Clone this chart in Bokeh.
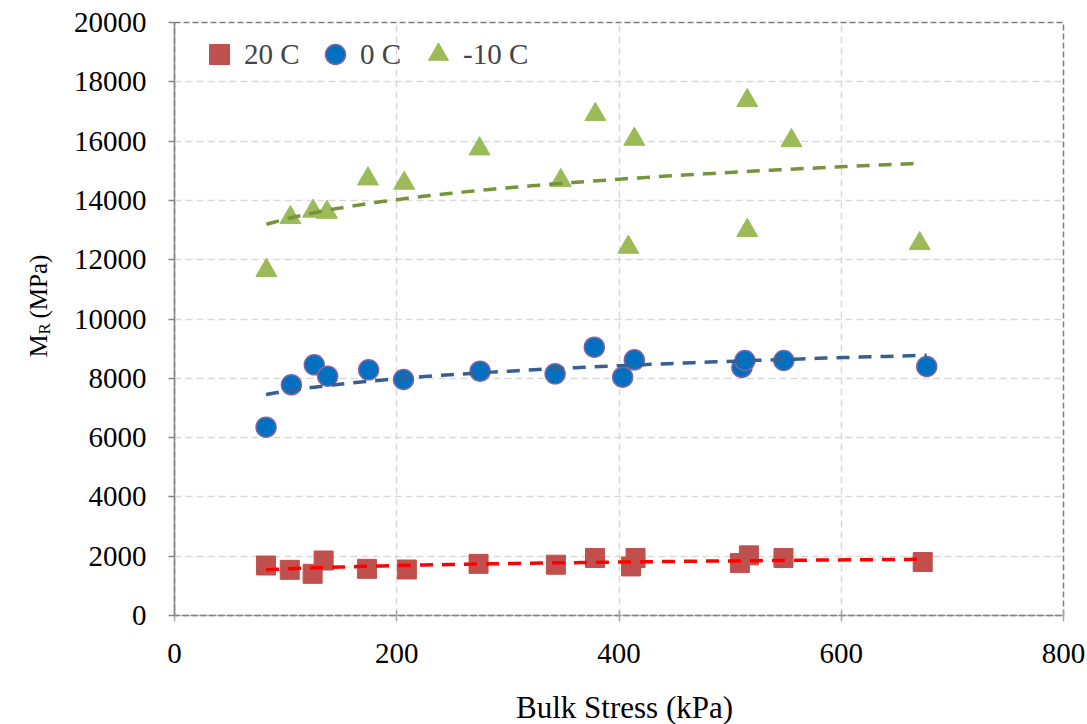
import numpy as np
from bokeh.plotting import figure
from bokeh.layouts import row, column
from bokeh.models import Legend, LegendItem, FixedTicker, Range1d
from bokeh.core.properties import value
from bokeh.embed import file_html
from bokeh.resources import INLINE

# ---- data ----
x_20c = [82.4, 103.7, 124.3, 134.2, 173.2, 209.1, 273.6, 343.2, 378.4, 410.8, 414.9, 508.8, 516.9, 548.0, 673.3]
y_20c = [1686, 1540, 1405, 1855, 1574, 1551, 1742, 1713, 1938, 1656, 1938, 1769, 2028, 1938, 1803]

x_0c = [82.4, 105.2, 125.8, 137.8, 174.7, 206.1, 275.0, 342.5, 377.8, 403.3, 413.8, 510.6, 513.3, 548.3, 676.9]
y_0c = [6352, 7780, 8454, 8071, 8285, 7960, 8240, 8150, 9050, 8038, 8623, 8364, 8600, 8600, 8398]

x_m10c = [82.7, 104.3, 124.7, 137.2, 174.1, 206.7, 274.5, 347.6, 378.7, 408.4, 413.8, 515.4, 515.4, 555.2, 670.6]
y_m10c = [11636, 13423, 13637, 13600, 14728, 14581, 15739, 14671, 16897, 12422, 16064, 17369, 12985, 16020, 12546]

series_labels = ["20 C", "0 C", "-10 C"]
x_ticks = [0, 200, 400, 600, 800]
y_ticks = [0, 2000, 4000, 6000, 8000, 10000, 12000, 14000, 16000, 18000, 20000]
x_title = "Bulk Stress (kPa)"
y_title_parts = ["M", "R", "(MPa)"]


def power_fit(xs, ys):
    xs = np.asarray(xs, float)
    ys = np.asarray(ys, float)
    b, lna = np.polyfit(np.log(xs), np.log(ys), 1)
    xf = np.linspace(xs.min(), xs.max(), 80)
    return xf, np.exp(lna) * xf ** b


FONT = "Liberation Serif"
YLAB_W = 66
XLAB_H = 39
TOTAL_W, TOTAL_H = 1087, 724
FRAME_LEFT = 174

xr = Range1d(0, 800)
p = figure(width=TOTAL_W - YLAB_W, height=TOTAL_H - XLAB_H, x_range=xr, y_range=Range1d(0, 20000),
           output_backend="svg", toolbar_location=None,
           min_border_left=FRAME_LEFT - YLAB_W, min_border_right=24, min_border_top=22, min_border_bottom=70)
p.background_fill_color = "white"
p.border_fill_color = "white"

p.outline_line_color = "#7f7f7f"
p.outline_line_dash = "6 3"
p.outline_line_width = 1.5

p.xaxis.ticker = FixedTicker(ticks=x_ticks)
p.yaxis.ticker = FixedTicker(ticks=y_ticks)
p.xgrid.ticker = FixedTicker(ticks=x_ticks[1:-1])
p.ygrid.ticker = FixedTicker(ticks=y_ticks[1:-1])
for g in (p.xgrid, p.ygrid):
    g.grid_line_color = "#d9d9d9"
    g.grid_line_dash = "7 4"
    g.grid_line_width = 1.5

for ax in (p.xaxis, p.yaxis):
    ax.major_label_text_font = FONT
    ax.major_label_text_font_size = "29px"
    ax.major_label_text_color = "black"
    ax.minor_tick_line_color = None
    ax.axis_line_color = "#868686"
    ax.axis_line_width = 1.5
    ax.major_tick_line_color = "#868686"
    ax.major_tick_line_width = 1.5

p.yaxis.major_tick_in = 0
p.yaxis.major_tick_out = 6
p.yaxis.major_label_standoff = 22

p.xaxis.axis_line_dash = "6 3"
p.xaxis.major_tick_in = 5
p.xaxis.major_tick_out = 6
p.xaxis.major_tick_line_color = "#a6a6a6"
p.xaxis.major_label_standoff = 22

r20 = p.scatter(x_20c, y_20c, marker="square", size=19, fill_color="#C0504D", line_color="#C0504D")
r0 = p.scatter(x_0c, y_0c, marker="circle", size=20, fill_color="#0070C0", line_color="#8064A2", line_width=1.5)
rm10 = p.scatter(x_m10c, y_m10c, marker="triangle", size=21, fill_color="#9BBB59", line_color="#9BBB59")

for xs, ys, col in ((x_20c, y_20c, "#FF0000"), (x_0c, y_0c, "#376092"), (x_m10c, y_m10c, "#77933C")):
    xf, yf = power_fit(xs, ys)
    p.line(xf, yf, line_color=col, line_width=3.5, line_dash="13 9")

# one legend box per series so each marker sits where the reference shows it
for lbl, rend, vx in zip(series_labels, (r20, r0, rm10), (20, 136, 239)):
    lg = Legend(items=[LegendItem(label=lbl, renderers=[rend])],
                orientation="horizontal", location=(vx, 536), padding=0, margin=0,
                spacing=0, label_standoff=0, glyph_width=50, glyph_height=50,
                label_text_font=FONT, label_text_font_size="29px",
                background_fill_alpha=0, border_line_alpha=0)
    p.add_layout(lg)

# ---- x-axis title strip ----
xlab = figure(width=TOTAL_W - YLAB_W, height=XLAB_H, x_range=xr, y_range=Range1d(0, XLAB_H),
              output_backend="svg", toolbar_location=None, x_axis_type=None, y_axis_type=None,
              min_border_left=FRAME_LEFT - YLAB_W, min_border_right=24, min_border_top=0, min_border_bottom=0)
xlab.outline_line_color = None
xlab.xgrid.visible = False
xlab.ygrid.visible = False
xlab.text(x=[405], y=[XLAB_H - 22], text=[x_title], text_font=value(FONT), text_font_size="31px",
          text_align="center", text_baseline="middle", text_color="black")

# ---- y-axis title strip (with subscript) ----
ylab = figure(width=YLAB_W, height=TOTAL_H, x_range=Range1d(0, YLAB_W), y_range=Range1d(0, TOTAL_H),
              output_backend="svg", toolbar_location=None, x_axis_type=None, y_axis_type=None,
              min_border_left=0, min_border_right=0, min_border_top=0, min_border_bottom=0)
ylab.outline_line_color = None
ylab.xgrid.visible = False
ylab.ygrid.visible = False
base_y = TOTAL_H - 357
ylab.text(x=[38], y=[base_y], text=[y_title_parts[0]], angle=np.pi / 2, text_font=value(FONT),
          text_font_size="26px", text_align="left", text_baseline="alphabetic", text_color="black")
ylab.text(x=[44], y=[base_y + 23], text=[y_title_parts[1]], angle=np.pi / 2, text_font=value(FONT),
          text_font_size="17px", text_align="left", text_baseline="alphabetic", text_color="black")
ylab.text(x=[38], y=[base_y + 39], text=[y_title_parts[2]], angle=np.pi / 2, text_font=value(FONT),
          text_font_size="25px", text_align="left", text_baseline="alphabetic", text_color="black")

layout = row(ylab, column(p, xlab, spacing=0), spacing=0)
open("out.html", "w").write(file_html(layout, INLINE))
